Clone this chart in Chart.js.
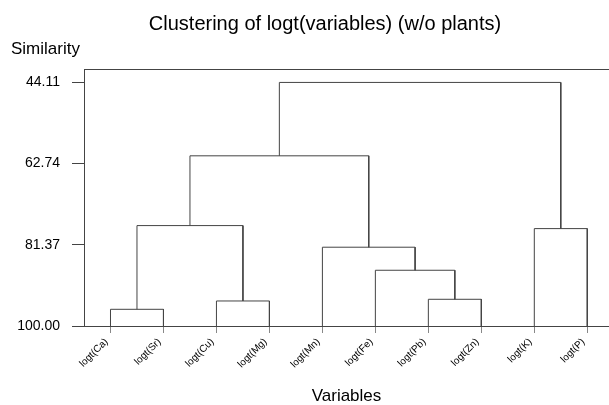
<!DOCTYPE html>
<html>
<head>
<meta charset="utf-8">
<script src="https://cdn.jsdelivr.net/npm/chart.js@4"></script>
<style>
  body { margin: 0; background: #fff; }
  canvas { display: block; }
</style>
</head>
<body>
<canvas id="chart" width="609" height="405"></canvas>
<script>
// leaves of the dendrogram, left to right
const leaves = ['logt(Ca)', 'logt(Sr)', 'logt(Cu)', 'logt(Mg)', 'logt(Mn)',
  'logt(Fe)', 'logt(Pb)', 'logt(Zn)', 'logt(K)', 'logt(P)'];

// merge steps: node ids 0-9 are leaves, merge k creates node 10 + k
const mergeA = [0, 2, 6, 5, 4, 8, 10, 16, 17];
const mergeB = [1, 3, 7, 12, 13, 9, 11, 14, 15];
const similarity = [96.17, 94.26, 93.87, 87.21, 81.92, 77.65, 76.96, 60.95, 44.11];

const yTicks = [44.11, 62.74, 81.37, 100];

const LINE = '#444';
const FONT = 'Liberation Sans, Arial, sans-serif';

// position of each node: x = mean of children, y = similarity level
const nodeX = leaves.map((_, i) => i + 1);
const nodeY = leaves.map(() => 100);
const datasets = [];
similarity.forEach((s, k) => {
  const a = mergeA[k], b = mergeB[k];
  nodeX.push((nodeX[a] + nodeX[b]) / 2);
  nodeY.push(s);
  datasets.push({
    data: [
      { x: nodeX[a], y: nodeY[a] },
      { x: nodeX[a], y: s },
      { x: nodeX[b], y: s },
      { x: nodeX[b], y: nodeY[b] },
    ],
    borderColor: LINE,
    borderWidth: 1,
    pointRadius: 0,
    tension: 0,
    fill: false,
  });
});

const noPad = (scale) => { scale.paddingLeft = 0; scale.paddingRight = 0; };

// "Similarity" label above the y axis, and title box shifted a bit right
const extras = {
  id: 'extras',
  afterLayout(chart) {
    const t = chart.titleBlock;
    if (t) { t.left = 41; t.right = 609; t.width = 568; }
  },
  afterDraw(chart) {
    const ctx = chart.ctx;
    ctx.save();
    ctx.font = '17px ' + FONT;
    ctx.fillStyle = '#000';
    ctx.textAlign = 'left';
    ctx.textBaseline = 'alphabetic';
    ctx.fillText('Similarity', 11, 54);
    ctx.restore();
  }
};

new Chart(document.getElementById('chart'), {
  type: 'line',
  data: { datasets },
  plugins: [extras],
  options: {
    responsive: false,
    animation: false,
    devicePixelRatio: 1,
    layout: { padding: 0 },
    plugins: {
      legend: { display: false },
      tooltip: { enabled: false },
      title: {
        display: true,
        text: 'Clustering of logt(variables) (w/o plants)',
        color: '#000',
        font: { family: FONT, size: 20, weight: 'normal', lineHeight: 1.2 },
        padding: { top: 12, bottom: 33 },
      },
    },
    scales: {
      x: {
        type: 'linear',
        position: 'bottom',
        min: 0.5,
        max: 10.41,
        afterBuildTicks: (scale) => { scale.ticks = leaves.map((_, i) => ({ value: i + 1 })); },
        afterFit: (scale) => { scale.height = 79; noPad(scale); },
        ticks: {
          autoSkip: false,
          minRotation: 45,
          maxRotation: 45,
          labelOffset: -4,
          color: '#000',
          font: { family: FONT, size: 10 },
          callback: (v) => leaves[v - 1],
        },
        grid: { drawOnChartArea: false, tickLength: 7, color: '#888' },
        border: { color: LINE },
        title: {
          display: true,
          text: 'Variables',
          color: '#000',
          font: { family: FONT, size: 17, lineHeight: 1 },
          padding: { top: 0, bottom: 0 },
        },
      },
      xTop: {
        type: 'linear',
        position: 'top',
        min: 0.5,
        max: 10.41,
        afterFit: (scale) => { scale.height = 0; noPad(scale); },
        ticks: { display: false },
        grid: { display: true, drawOnChartArea: false, drawTicks: false, color: LINE },
        border: { display: true, color: LINE },
      },
      y: {
        type: 'linear',
        reverse: true,
        min: 41.03,
        max: 100,
        afterBuildTicks: (scale) => { scale.ticks = yTicks.map((v) => ({ value: v })); },
        afterFit: (scale) => { scale.width = 84; },
        ticks: {
          color: '#000',
          padding: 12,
          font: { family: FONT, size: 14 },
          callback: (v) => v.toFixed(2),
        },
        grid: { drawOnChartArea: false, tickLength: 12, color: LINE },
        border: { color: LINE },
      },
    },
  },
});
</script>
</body>
</html>
